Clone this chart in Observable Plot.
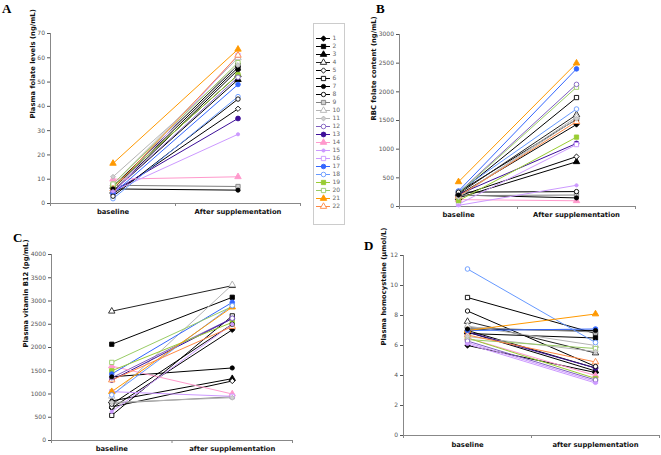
<!DOCTYPE html>
<html><head><meta charset="utf-8">
<script src="https://cdn.jsdelivr.net/npm/d3@7"></script>
<script src="https://cdn.jsdelivr.net/npm/@observablehq/plot@0.6"></script>
<style>
body{margin:0;background:#fff;width:661px;height:455px;overflow:hidden;position:relative;font-family:"DejaVu Sans",Verdana,sans-serif}
.panel{position:absolute}
.panel svg{overflow:visible}
.letter{position:absolute;font-family:"Liberation Serif","Times New Roman",serif;font-weight:bold;font-size:13px;line-height:13px}
</style></head><body>
<div class="letter" style="left:2px;top:2px">A</div>
<div class="letter" style="left:376px;top:2px">B</div>
<div class="letter" style="left:13px;top:231px">C</div>
<div class="letter" style="left:364px;top:239px">D</div>
<div id="pA" class="panel" style="left:0;top:0"></div>
<div id="pB" class="panel" style="left:350px;top:0"></div>
<div id="pC" class="panel" style="left:0;top:222px"></div>
<div id="pD" class="panel" style="left:350px;top:222px"></div>
<div id="legend" class="panel" style="left:313px;top:23px"></div>
<script>
// ---- data ----
const ids = [1,2,3,4,5,6,7,8,9,10,11,12,13,14,15,16,17,18,19,20,21,22];
const catsAB = ["baseline", "After supplementation"];
const catsCD = ["baseline", "after supplementation"];

const folateBase  = [5, 6, 5, 7, 4, 7, 6, 3, 7.5, 8, 11, 5, 5, 10, 5, 4, 4, 2, 7, 8, 16.5, 6];
const folateAfter = [55, 56, 51, 53, 39, 57, 5.5, 43, 7, 60, 57, 52, 35, 11, 28.5, 61, 49, 44, 53, 58, 63.5, 61];

const rbcBase  = [200, 250, 150, 220, 180, 230, 200, 250, 190, 170, 160, 240, 210, 120, 20, 40, 270, 260, 100, 230, 430, 180];
const rbcAfter = [1430, 1520, 780, 1600, 870, 1900, 150, 260, 200, 1560, 1530, 2130, 1100, 100, 370, 1080, 2400, 1700, 1210, 2080, 2500, 1480];

const b12Base  = [700, 2070, 850, 2780, 720, 540, 1370, 780, 800, 950, 820, 1350, 1300, 1600, 620, 1050, 1430, 980, 1500, 1680, 1050, 1300];
const b12After = [2380, 3080, 1330, 3330, 1280, 2680, 1560, 2500, 940, 3350, 920, 2630, 2620, 1000, 2500, 950, 2970, 2900, 2540, 2880, 2870, 2450];

const hcyBase  = [6.0, 6.8, 6.9, 7.6, 7.0, 9.2, 7.1, 8.3, 7.2, 7.3, 6.6, 6.3, 6.9, 6.5, 6.1, 6.2, 7.0, 11.1, 6.5, 6.4, 7.0, 6.7];
const hcyAfter = [4.2, 6.5, 4.3, 5.5, 4.5, 6.8, 7.0, 4.6, 6.9, 6.0, 5.6, 3.7, 4.5, 4.0, 3.5, 3.6, 7.1, 6.2, 3.8, 5.8, 8.1, 4.9];

// ---- styles ----
const strokes = ["#000","#000","#000","#222","#000","#000","#000","#000","#808080","#b4b4b4","#b4b4b4","#7f5fbf","#3d0f99","#ff99cc","#cc99ff","#cc99ff","#3366ff","#6699ff","#99cc33","#99cc66","#ff9900","#ff8844"];
const fills   = ["#000","#000","#000","#fff","#fff","#fff","#000","#fff","#d0d0d0","#fff","#d0d0d0","#fff","#3d0f99","#ff99cc","#cc99ff","#fff","#3366ff","#fff","#99cc33","#fff","#ff9900","#fff"];
const symNames = ["diamond","square","triangle","triangle","diamond","square","circle","circle","square","triangle","diamond","circle","circle","triangle","circle","square","circle","circle","square","square","triangle","triangle"];
const radii = [2.4,2.4,2.4,2.4,2.4,2.4,2.1,2.2,2.4,2.4,2.2,2.3,2.4,2.4,1.6,2.4,2.3,2.3,2.4,2.4,2.4,2.4];

const symObj = {
  circle: d3.symbolCircle,
  square: d3.symbolSquare,
  triangle: d3.symbolTriangle,
  diamond: d3.symbolDiamond2 || d3.symbolDiamond
};
const symbolScale = {domain: ids, range: symNames.map(n => symObj[n])};

function panel(el, o) {
  const rows = ids.flatMap((id, i) => [
    {id, i, t: 0.5, v: o.base[i]},
    {id, i, t: 1.5, v: o.after[i]}
  ]);
  const chart = Plot.plot({
    width: o.width, height: o.height,
    marginLeft: o.ml, marginRight: o.mr, marginTop: o.mt, marginBottom: o.mb,
    style: {fontFamily: "DejaVu Sans, Verdana, sans-serif", fontSize: "6px", color: "#444", background: "transparent"},
    x: {domain: [0, 2], axis: null},
    y: {domain: o.yDomain, axis: null},
    color: {type: "identity"},
    r: {type: "identity"},
    symbol: symbolScale,
    marks: [
      Plot.axisY({ticks: o.yTicks, tickSize: 3, tickPadding: 2.5, tickFormat: d => String(d), color: "#555", label: null, fontSize: 6}),
      Plot.axisX({ticks: [0, 1, 2], tickSize: 3, tickFormat: () => "", color: "#888", label: null}),
      Plot.ruleX([0], {stroke: "#888"}),
      Plot.ruleY([o.yDomain[0]], {stroke: "#888"}),
      Plot.text(o.cats, {x: (d, i) => i + 0.5, frameAnchor: "bottom", dy: o.catDy, text: d => d, fontWeight: "bold", fontSize: 6.8, fill: "#111"}),
      Plot.text([o.yLabel], {frameAnchor: "left", rotate: -90, dx: o.labelDx, text: d => d, fontWeight: "bold", fontSize: 6.8, fill: "#111"}),
      Plot.line(rows, {x: "t", y: "v", z: "id", stroke: d => strokes[d.i], strokeWidth: 1}),
      Plot.dot(rows, {x: "t", y: "v", symbol: "id", r: d => radii[d.i], fill: d => fills[d.i], stroke: d => strokes[d.i], strokeWidth: 0.9})
    ]
  });
  document.getElementById(el).appendChild(chart);
}

panel("pA", {base: folateBase, after: folateAfter, cats: catsAB, yDomain: [0, 70], yTicks: [0,10,20,30,40,50,60,70],
  yLabel: "Plasma folate levels (ng/mL)", width: 305, height: 222, ml: 50, mr: 5, mt: 33, mb: 19, catDy: 10, labelDx: -18});
panel("pB", {base: rbcBase, after: rbcAfter, cats: catsAB, yDomain: [0, 3000], yTicks: [0,500,1000,1500,2000,2500,3000],
  yLabel: "RBC folate content (ng/mL)", width: 290, height: 224, ml: 49, mr: 5, mt: 34, mb: 18, catDy: 10, labelDx: -26});
panel("pC", {base: b12Base, after: b12After, cats: catsCD, yDomain: [0, 4000], yTicks: [0,500,1000,1500,2000,2500,3000,3500,4000],
  yLabel: "Plasma vitamin B12 (pg/mL)", width: 297, height: 233, ml: 51, mr: 5, mt: 32, mb: 15, catDy: 10, labelDx: -26});
panel("pD", {base: hcyBase, after: hcyAfter, cats: catsCD, yDomain: [0, 12], yTicks: [0,2,4,6,8,10,12],
  yLabel: "Plasma homocysteine (\u00b5mol/L)", width: 311, height: 233, ml: 53, mr: 2, mt: 33, mb: 20, catDy: 11, labelDx: -20});

// legend
const legend = Plot.plot({
  width: 31, height: 201, margin: 0,
  style: {fontFamily: "DejaVu Sans, Verdana, sans-serif", fontSize: "6px", background: "#fff"},
  x: {domain: [0, 31], range: [0, 31], axis: null},
  y: {type: "point", domain: ids, range: [5, 193], axis: null},
  color: {type: "identity"},
  r: {type: "identity"},
  symbol: symbolScale,
  marks: [
    Plot.frame({stroke: "#ccc"}),
    Plot.ruleY(ids, {y: d => d, x1: 3, x2: 17, stroke: (d, i) => strokes[i], strokeWidth: 1}),
    Plot.dot(ids, {x: 10, y: d => d, symbol: d => d, r: (d, i) => radii[i], fill: (d, i) => fills[i], stroke: (d, i) => strokes[i], strokeWidth: 0.9}),
    Plot.text(ids, {x: 19, y: d => d, text: d => String(d), textAnchor: "start", fill: "#666", fontSize: 6})
  ]
});
document.getElementById("legend").appendChild(legend);
</script>
</body></html>
